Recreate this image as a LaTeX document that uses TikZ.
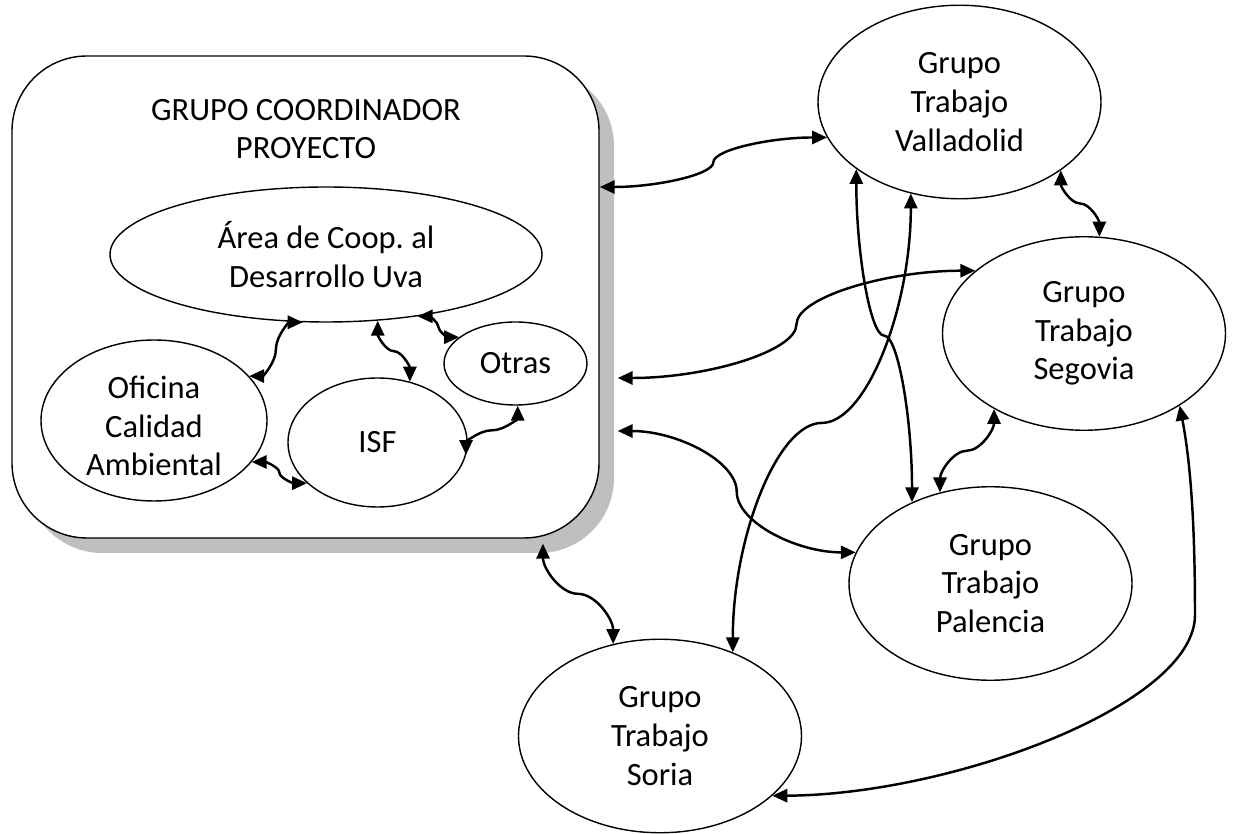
\documentclass[tikz,border=0pt]{standalone}
\usepackage{fontspec}
\setmainfont{Carlito}
\usetikzlibrary{shapes.geometric,shadows,calc,arrows.meta}

\tikzset{
  every node/.style={font=\fontsize{18.5}{22}\selectfont},
  bubble/.style={ellipse, draw, line width=0.8pt, fill=white, inner sep=0pt, align=center},
  wgroup/.style={bubble, minimum width=5.66cm, minimum height=3.87cm},
  conn/.style={line width=1.4pt, {Triangle[length=8.5pt,width=7.5pt]}-{Triangle[length=8.5pt,width=7.5pt]}},
  % curved connector, horizontal at both ends
  hcurve/.style={to path={let \p1=(\tikztostart), \p2=(\tikztotarget) in
    .. controls ({0.75*\x1+0.25*\x2},\y1) and ({0.5*\x1+0.5*\x2},{0.75*\y1+0.25*\y2})
    .. ({0.5*\x1+0.5*\x2},{0.5*\y1+0.5*\y2})
    .. controls ({0.5*\x1+0.5*\x2},{0.25*\y1+0.75*\y2}) and ({0.25*\x1+0.75*\x2},\y2)
    .. (\tikztotarget)}},
  % curved connector, vertical at both ends
  vcurve/.style={to path={let \p1=(\tikztostart), \p2=(\tikztotarget) in
    .. controls (\x1,{0.75*\y1+0.25*\y2}) and ({0.75*\x1+0.25*\x2},{0.5*\y1+0.5*\y2})
    .. ({0.5*\x1+0.5*\x2},{0.5*\y1+0.5*\y2})
    .. controls ({0.25*\x1+0.75*\x2},{0.5*\y1+0.5*\y2}) and (\x2,{0.25*\y1+0.75*\y2})
    .. (\tikztotarget)}}
}

\begin{document}
\begin{tikzpicture}
  \useasboundingbox (0,0) rectangle (24.7,16.68);

  % coordinating group
  \node (box) [draw, line width=0.8pt, fill=white, rounded corners=1.5cm,
    minimum width=11.74cm, minimum height=9.64cm,
    drop shadow={shadow xshift=0.3cm, shadow yshift=-0.3cm, fill=black!25, opacity=1}] at (6.11,10.74) {};
  \node (title) [align=center] at (6.12,14.1) {GRUPO COORDINADOR\\PROYECTO};
  \node (area) [bubble, minimum width=8.64cm, minimum height=2.7cm] at (6.52,11.59) {Área de Coop.\ al\\Desarrollo Uva};
  \node (ofi) [bubble, minimum width=4.52cm, minimum height=3.22cm, text height=63pt] at (3.08,8.27) {Oficina\\Calidad\\Ambiental};
  \node (isf) [bubble, minimum width=3.58cm, minimum height=2.58cm] at (7.55,7.83) {ISF};
  \node (otras) [bubble, minimum width=2.86cm, minimum height=1.66cm] at (10.31,9.41) {Otras};

  % working groups
  \node (valla) [wgroup] at (19.19,14.64) {Grupo\\Trabajo\\Valladolid};
  \node (sego) [wgroup] at (21.68,10.01) {Grupo\\Trabajo\\Segovia};
  \node (pale) [wgroup] at (19.81,5.01) {Grupo\\Trabajo\\Palencia};
  \node (soria) [wgroup] at (13.20,1.96) {Grupo\\Trabajo\\Soria};

  \coordinate (bVal) at ([yshift=2.2cm]box.east);
  \coordinate (bSeg) at ([xshift=0.36cm,yshift=-1.62cm]box.east);
  \coordinate (bPal) at ([xshift=0.36cm,yshift=-2.68cm]box.east);
  \coordinate (bSor) at ([xshift=4.75cm,yshift=-0.1cm]box.south);

  % connectors
  \foreach \a/\b in {area.251/ofi.25, area.326/otras.155, ofi.337/isf.210,
      bVal/valla.195, bSeg/sego.150, bPal/pale.167}
    \draw[conn] (\a) to[hcurve] (\b);
  \foreach \a/\b in {area.308/isf.62, isf.352/otras.273, bSor/soria.117,
      valla.213/pale.134, valla.242/soria.49, valla.326/sego.81, sego.220/pale.119}
    \draw[conn] (\a) to[vcurve] (\b);
  \draw[conn] (sego.323) .. controls (23.84,7.28) and (23.9,5.9) .. (23.9,4.38)
    .. controls (23.9,2.58) and (19.0,0.78) .. (soria.332);
\end{tikzpicture}
\end{document}
